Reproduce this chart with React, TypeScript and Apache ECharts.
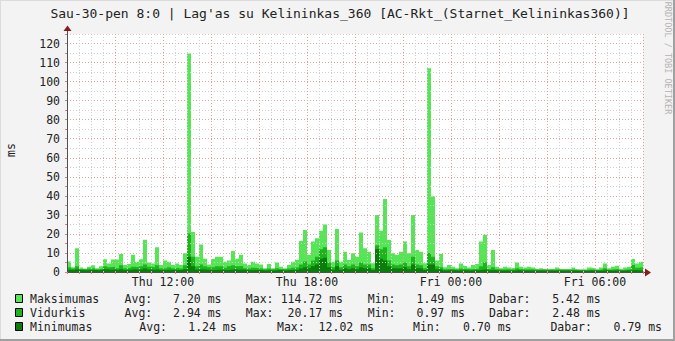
import React, { useEffect, useRef } from "react";
import * as echarts from "echarts";

// 10-minute steps from Thu 08:00 to Fri 08:00 (minutes from start)
const STEP_MIN = 10;

const maxValues = [
  5.5, 2.5, 12.5, 2.3, 1.8, 2.8, 3.5, 2, 3, 6.7, 4.5, 6.5, 6.5, 9.5, 3.7, 4.2, 9, 5.4, 6.7, 17, 5, 4.5, 13, 3.7,
  6, 5.4, 3.7, 4.5, 3.7, 9.8, 114.72, 21, 8, 14.5, 7, 4, 6.8, 8, 8, 5.4, 6, 11, 7, 9, 4.5, 3.7, 5.4, 4.5,
  4, 2, 4.2, 2, 5, 2.8, 2, 3.7, 5.4, 6.3, 16.3, 22, 9, 16, 17.7, 21.6, 25, 11.6, 5.4, 22.6, 5.4, 10.7, 6.3, 9.8,
  8, 20.7, 12.5, 10.7, 4.6, 30, 21.7, 38.4, 16.8, 9.8, 9, 10.7, 16, 9.8, 30, 11.6, 10.7, 4.6, 107, 39.6, 6, 9.5, 2.5, 3.7,
  2.8, 2, 4.5, 3.2, 2.3, 3.7, 4.2, 16, 19.5, 3.7, 11.6, 2.8, 2, 2.8, 2.3, 2, 5, 2.8, 2.3, 2.8, 2.3, 1.6, 2, 1.6,
  1.6, 1.6, 2.3, 1.6, 1.6, 1.6, 2.3, 1.5, 1.5, 1.5, 2.3, 2, 1.5, 2.3, 4.5, 2, 2.8, 3.3, 1.6, 2.3, 2.8, 6.8, 4.5, 5.42,
];

const avgValues = [
  2.5, 1.8, 3, 1.6, 1.4, 1.8, 2, 1.5, 1.8, 3, 2.5, 2.8, 2, 3.5, 2, 2.2, 2.8, 2.5, 3, 4, 2.8, 2.5, 3.5, 2,
  2, 2.5, 2, 2.2, 1.8, 3.5, 20.17, 8, 3, 4, 3, 2.5, 2.5, 3, 3, 2.2, 3, 3.5, 3, 3.2, 2, 1.8, 2.2, 2,
  1.8, 1.4, 1.8, 1.4, 2, 1.6, 1.4, 1.8, 2.2, 2.5, 4, 5.5, 4, 6, 8, 12, 13, 5, 2.5, 6, 2.5, 4, 3, 4,
  3, 5, 4, 4, 2, 14, 12, 13, 6, 4, 3.5, 4, 5, 3, 8, 4, 3.5, 2, 10, 8, 3, 2.5, 1.5, 1.6,
  1.5, 1.3, 1.8, 1.6, 1.4, 1.6, 1.7, 3, 5, 1.6, 2.5, 1.4, 1.3, 1.4, 1.3, 1.3, 2, 1.4, 1.3, 1.4, 1.3, 1.2, 1.3, 1.2,
  1.2, 1.2, 1.3, 1.2, 1.2, 1.2, 1.3, 1.1, 1.1, 1.1, 1.3, 1.2, 1.1, 1.3, 2, 1.2, 1.5, 1.6, 1.1, 1.3, 1.5, 3.7, 2.2, 2.48,
];

const minValues = [
  1.2, 1, 1.5, 1, 0.9, 1, 1.1, 0.9, 1, 1.4, 1.2, 1.3, 1, 1.5, 1.1, 1.2, 1.4, 1.2, 1.4, 1.8, 1.3, 1.2, 1.5, 1,
  1, 1.2, 1, 1.1, 1, 1.4, 8, 3, 1.3, 1.5, 1.2, 1.1, 1.1, 1.2, 1.2, 1, 1.2, 1.4, 1.2, 1.3, 1, 0.9, 1, 1,
  0.9, 0.8, 0.9, 0.8, 1, 0.9, 0.8, 1, 1.1, 1.2, 1.8, 2.5, 2, 3, 4, 7, 7.5, 2.5, 1.2, 3, 1.2, 2, 1.5, 2,
  1.5, 2.5, 2, 2, 1, 12.02, 7, 6, 3, 2, 1.8, 2, 2.5, 1.5, 4, 2, 1.8, 1, 4, 4, 1.5, 1.2, 0.8, 0.9,
  0.9, 0.8, 0.9, 0.9, 0.8, 0.9, 0.9, 1.2, 1.5, 0.9, 1.1, 0.8, 0.8, 0.8, 0.8, 0.8, 1, 0.8, 0.8, 0.8, 0.8, 0.75, 0.8, 0.75,
  0.75, 0.75, 0.8, 0.75, 0.75, 0.75, 0.8, 0.7, 0.7, 0.7, 0.8, 0.75, 0.7, 0.8, 0.9, 0.75, 0.8, 0.8, 0.7, 0.8, 0.8, 1.1, 0.9, 0.79,
];

const xTickMinutes = [240, 600, 960, 1320];
const xTickLabels = ["Thu 12:00", "Thu 18:00", "Fri 00:00", "Fri 06:00"];

const seriesNames = ["Maksimumas", "Vidurkis", "Minimumas"];
const seriesColors = ["#55E655", "#1DB51D", "#0A7D0A"];
const legendStats = [
  ["7.20 ms", "114.72 ms", "1.49 ms", "5.42 ms"],
  ["2.94 ms", "20.17 ms", "0.97 ms", "2.48 ms"],
  ["1.24 ms", "12.02 ms", "0.70 ms", "0.79 ms"],
];
const statLabels = ["Avg:", "Max:", "Min:", "Dabar:"];

const TITLE = "Sau-30-pen 8:0 | Lag'as su Kelininkas_360 [AC-Rkt_(Starnet_Kelininkas360)]";
const FONT = "DejaVu Sans Mono";

function toPoints(vals: number[]) {
  const pts: number[][] = vals.map((v, i) => [i * STEP_MIN, v]);
  pts.push([vals.length * STEP_MIN, vals[vals.length - 1]]);
  return pts;
}

export default function App() {
  const ref = useRef<HTMLDivElement>(null);

  useEffect(() => {
    document.body.style.margin = "0";
    if (!ref.current) return;
    const chart = echarts.init(ref.current, undefined, { renderer: "svg" });

    const rowY = [299, 313, 327];
    const colsA = { lab: [124.6, 245.8, 367.8, 489], val: [221.5, 343, 465, 600.6] };
    const colsB = { lab: [139.3, 277, 413, 550.4], val: [236.7, 374, 511.5, 662] };

    const legendGraphics: any[] = [];
    seriesNames.forEach((name, r) => {
      const y = rowY[r];
      const cols = r === 2 ? colsB : colsA;
      legendGraphics.push({
        type: "rect",
        shape: { x: 15.5, y: y - 4.5, width: 7, height: 8 },
        style: { fill: seriesColors[r], stroke: "#000", lineWidth: 1 },
      });
      legendGraphics.push({
        type: "text",
        x: 30,
        y,
        style: { text: name, font: `11.5px ${FONT}`, fill: "#222", textVerticalAlign: "middle" },
      });
      statLabels.forEach((lab, c) => {
        legendGraphics.push({
          type: "text",
          x: cols.lab[c],
          y,
          style: { text: lab, font: `11.5px ${FONT}`, fill: "#222", textVerticalAlign: "middle" },
        });
        legendGraphics.push({
          type: "text",
          x: cols.val[c],
          y,
          style: {
            text: legendStats[r][c],
            font: `11.5px ${FONT}`,
            fill: "#222",
            textAlign: "right",
            textVerticalAlign: "middle",
          },
        });
      });
    });

    const option: any = {
      animation: false,
      backgroundColor: "#F3F3F3",
      textStyle: { fontFamily: FONT },
      grid: {
        left: 67,
        right: 32,
        top: 34,
        bottom: 69,
        show: true,
        backgroundColor: "#FFFFFF",
        borderWidth: 0,
      },
      xAxis: {
        type: "value",
        min: 0,
        max: 1440,
        interval: 30,
        z: 10,
        axisLine: { show: true, onZero: false, lineStyle: { color: "#505050", width: 1 } },
        axisTick: { show: true, length: 2, lineStyle: { color: "#D08080" } },
        splitLine: {
          show: true,
          lineStyle: {
            color: ["#E4A0A0", "#CFCFCF", "#CFCFCF", "#CFCFCF"],
            type: [1, 2],
            width: 1,
          },
        },
        axisLabel: {
          formatter: (v: number) => {
            const k = xTickMinutes.indexOf(v);
            return k >= 0 ? xTickLabels[k] : "";
          },
          color: "#222",
          fontSize: 11.5,
          fontFamily: FONT,
          margin: 4,
        },
      },
      yAxis: {
        type: "value",
        min: 0,
        max: 125,
        interval: 5,
        z: 10,
        axisLine: { show: true, lineStyle: { color: "#505050", width: 1 } },
        axisTick: { show: true, length: 2, lineStyle: { color: "#D08080" } },
        splitLine: {
          show: true,
          lineStyle: { color: ["#E4A0A0", "#CFCFCF"], type: [1, 2], width: 1 },
        },
        axisLabel: {
          formatter: (v: number) => (v % 10 === 0 && v <= 120 ? String(v) : ""),
          color: "#222",
          fontSize: 11.5,
          fontFamily: FONT,
          margin: 7,
        },
      },
      series: [maxValues, avgValues, minValues].map((vals, k) => ({
        name: seriesNames[k],
        type: "line",
        step: "end",
        data: toPoints(vals),
        symbol: "none",
        showSymbol: false,
        silent: true,
        z: 2 + k,
        lineStyle: { width: 0, opacity: 0 },
        areaStyle: { color: seriesColors[k], opacity: 1 },
      })),
      graphic: [
        {
          type: "text",
          x: 340,
          y: 13,
          style: {
            text: TITLE,
            font: `13px ${FONT}`,
            fill: "#222",
            textAlign: "center",
            textVerticalAlign: "middle",
          },
        },
        {
          type: "text",
          x: 668,
          y: 58,
          rotation: -Math.PI / 2,
          style: {
            text: "RRDTOOL / TOBI OETIKER",
            font: `8.5px ${FONT}`,
            fill: "#B4B4B4",
            textAlign: "center",
            textVerticalAlign: "middle",
          },
        },
        {
          type: "text",
          x: 11,
          y: 150,
          rotation: Math.PI / 2,
          style: {
            text: "ms",
            font: `11.5px ${FONT}`,
            fill: "#222",
            textAlign: "center",
            textVerticalAlign: "middle",
          },
        },
        // axis extensions and arrows
        { type: "line", shape: { x1: 643, y1: 272.5, x2: 647, y2: 272.5 }, style: { stroke: "#505050", lineWidth: 1 } },
        { type: "line", shape: { x1: 67.5, y1: 34, x2: 67.5, y2: 30 }, style: { stroke: "#505050", lineWidth: 1 } },
        { type: "polygon", shape: { points: [[645, 268.5], [651, 272.5], [645, 276.5]] }, style: { fill: "#8B1A1A" } },
        { type: "polygon", shape: { points: [[63.5, 31], [67.5, 25.5], [71.5, 31]] }, style: { fill: "#8B1A1A" } },
        // frame
        { type: "line", shape: { x1: 0, y1: 0.5, x2: 675, y2: 0.5 }, style: { stroke: "#DCDCDC", lineWidth: 1 } },
        { type: "line", shape: { x1: 0.5, y1: 0, x2: 0.5, y2: 341 }, style: { stroke: "#DCDCDC", lineWidth: 1 } },
        { type: "line", shape: { x1: 674, y1: 0, x2: 674, y2: 341 }, style: { stroke: "#A0A0A0", lineWidth: 2 } },
        { type: "line", shape: { x1: 0, y1: 340, x2: 675, y2: 340 }, style: { stroke: "#A0A0A0", lineWidth: 2 } },
        ...legendGraphics,
      ],
    };

    chart.setOption(option);
    return () => chart.dispose();
  }, []);

  return (
    <div
      ref={ref}
      style={{ position: "fixed", left: 0, top: 0, width: 675, height: 341 }}
    />
  );
}
